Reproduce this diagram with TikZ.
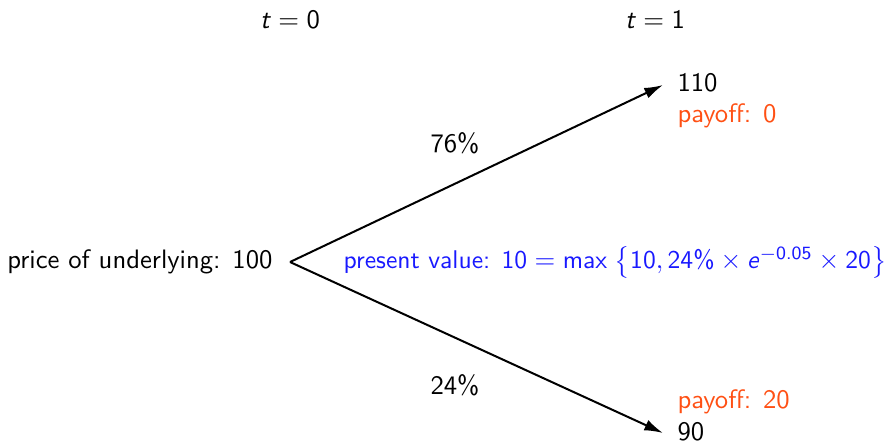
\documentclass[tikz,border=0pt]{standalone}
\usetikzlibrary{arrows.meta}
\renewcommand\familydefault{\sfdefault}
\definecolor{payoffc}{RGB}{255,80,20}
\definecolor{pvc}{RGB}{25,25,255}
\newcommand\sv[1]{\mbox{#1}}
\begin{document}
\begin{tikzpicture}[x=0.375pt,y=-0.375pt,
  lbl/.style={font=\fontsize{10}{12}\selectfont, inner sep=0pt},
  branch/.style={line width=0.75pt, -{Latex[length=7pt,width=4.2pt]}}]
\useasboundingbox (0,0) rectangle (896,441);
\node[lbl] (t0) at (290,20) {$\sv{\textit{t}}=\sv{0}$};
\node[lbl] (t1) at (655,20) {$\sv{\textit{t}}=\sv{1}$};
\node[lbl, anchor=east] (root) at (273,262) {price of underlying: 100};
\coordinate (o) at (290,262);
\node[lbl, anchor=west] (up) at (677,83) {110};
\node[lbl, anchor=west, text=payoffc] (upp) at (677,116) {payoff: 0};
\node[lbl, anchor=west, text=payoffc] (dnp) at (677,402) {payoff: 20};
\node[lbl, anchor=west] (dn) at (677,432) {90};
\coordinate (ue) at (663,85);
\coordinate (de) at (663,433);
\draw[branch] (o) -- (ue);
\draw[branch] (o) -- (de);
\node[lbl] (pu) at (455,143) {76\%};
\node[lbl] (pd) at (455,385) {24\%};
\node[lbl, anchor=west, text=pvc, font=\fontsize{9.6}{11.5}\selectfont] (pv) at (343,262) {present value: $\sv{10}=\mathop{\sv{max}}\;\bigl\{\sv{10},\sv{24\%}\times\sv{\textit{e}}^{\sv{\scriptsize$-$0.05}}\times\sv{20}\bigr\}$};
\end{tikzpicture}
\end{document}
